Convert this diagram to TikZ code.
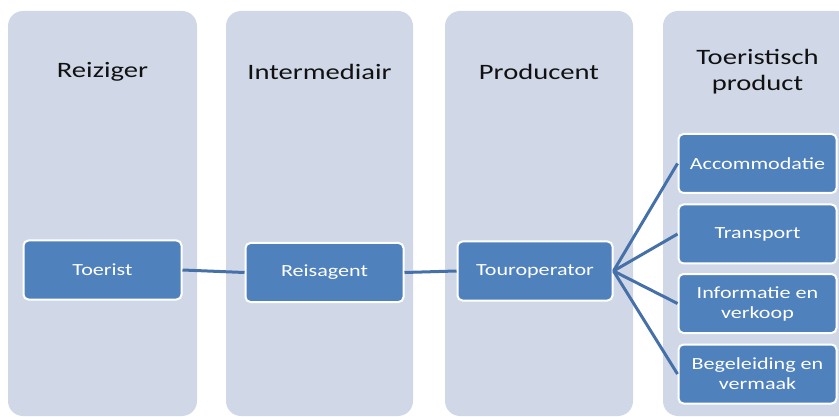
\documentclass[tikz,border=0pt]{standalone}
\usepackage{fontspec}
\setmainfont{Carlito}[FakeStretch=1.3]
\definecolor{colbg}{HTML}{D0D8E8}
\definecolor{boxbg}{HTML}{4F81BD}
\definecolor{linkc}{HTML}{4670A8}
\definecolor{titlec}{HTML}{111111}
\begin{document}
\begin{tikzpicture}[x=1pt,y=-1pt,
  column/.style={fill=colbg,rounded corners=15pt},
  coltitle/.style={text=titlec,font=\fontsize{22}{26}\selectfont,align=center,inner sep=0pt},
  itembox/.style={fill=boxbg,draw=white,line width=2pt,rounded corners=5pt,
     text=white,font=\fontsize{17}{20}\selectfont,align=center,inner sep=0pt,
     minimum width=158pt,minimum height=59pt},
  link/.style={draw=linkc,line width=3pt}]
\useasboundingbox (0,0) rectangle (839,417);
\begin{scope}
\clip (0,0) rectangle (839,417);
\fill[column] (8,11) rectangle (197,416);
\fill[column] (226,11) rectangle (413,416);
\fill[column] (445,11) rectangle (633,416);
\fill[column] (663,11) rectangle (852,416);
\end{scope}
\node[coltitle] (t1) at (102.5,72) {Reiziger};
\node[coltitle] (t2) at (319.5,72) {Intermediair};
\node[coltitle] (t3) at (539,72) {Producent};
\node[coltitle] (t4) at (757.5,72) {Toeristisch\\product};
\node[itembox] (toerist) at (102.5,270) {Toerist};
\node[itembox] (reis) at (324.5,272.5) {Reisagent};
\node[itembox,minimum width=155pt] (tour) at (535,271) {Touroperator};
\node[itembox] (acc) at (757.5,163.5) {Accommodatie};
\node[itembox] (trans) at (757.5,234) {Transport};
\node[itembox] (info) at (757.5,303.5) {Informatie en\\verkoop};
\node[itembox] (beg) at (757.5,374) {Begeleiding en\\vermaak};
\begin{scope}[on background layer/.try]
\end{scope}
\draw[link] (toerist.east) -- (reis.west);
\draw[link] (reis.east) -- (tour.west);
\draw[link] (tour.east) -- (acc.west);
\draw[link] (tour.east) -- (trans.west);
\draw[link] (tour.east) -- (info.west);
\draw[link] (tour.east) -- (beg.west);
\end{tikzpicture}
\end{document}
